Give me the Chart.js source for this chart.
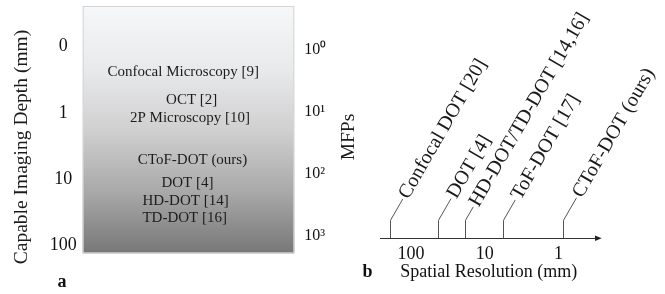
<!DOCTYPE html>
<html>
<head>
<meta charset="utf-8">
<script src="https://cdn.jsdelivr.net/npm/chart.js@4"></script>
<style>
html, body { margin: 0; padding: 0; background: #fff; }
#wrap { position: relative; width: 665px; height: 294px; }
#depthChart { position: absolute; left: 0; top: 0; }
#resChart { position: absolute; left: 358px; top: 0; }
</style>
</head>
<body>
<div id="wrap">
  <canvas id="depthChart" width="358" height="294"></canvas>
  <canvas id="resChart" width="307" height="294"></canvas>
</div>
<script>
// ---- panel a: imaging depth ----
const depthTicks = ['0', '1', '10', '100'];
const mfpTicks = ['10⁰', '10¹', '10²', '10³'];
const methodNames = ['Confocal Microscopy [9]', 'OCT [2]', '2P Microscopy [10]', 'CToF-DOT (ours)', 'DOT [4]', 'HD-DOT [14]', 'TD-DOT [16]'];
// where each method sits on the depth axis (tick index units) and across the box (0..1)
const methodDepth = [0.39, 0.81, 1.08, 1.71, 2.06, 2.34, 2.60];
const methodX = [0.475, 0.515, 0.507, 0.519, 0.495, 0.486, 0.482];

// ---- panel b: spatial resolution ----
const resNames = ['Confocal DOT [20]', 'DOT [4]', 'HD-DOT/TD-DOT [14,16]', 'ToF-DOT [17]', 'CToF-DOT (ours)'];
const resValues = [190, 43, 18.4, 5.7, 0.88];   // mm
const resTicks = [100, 10, 1];

const SERIF = "'Liberation Serif', 'Times New Roman', serif";
Chart.defaults.font.family = SERIF;
Chart.defaults.color = '#1a1a1a';

// no extra room for half labels at the ends of the y axes
const noPad = s => { s.paddingTop = 0; s.paddingBottom = 0; };

// gradient box behind the labels
const boxFill = {
  id: 'boxFill',
  beforeDatasetsDraw(chart) {
    const { ctx, chartArea: a } = chart;
    const g = ctx.createLinearGradient(0, a.top, 0, a.bottom);
    g.addColorStop(0, '#f6f7f9');
    g.addColorStop(0.25, '#e9eaec');
    g.addColorStop(0.5, '#d0d0d1');
    g.addColorStop(0.75, '#a9a9a9');
    g.addColorStop(1, '#777777');
    ctx.save();
    ctx.fillStyle = g;
    ctx.fillRect(a.left, a.top, a.right - a.left, a.bottom - a.top);
    ctx.strokeStyle = '#d4d4d4';
    ctx.lineWidth = 1;
    ctx.strokeRect(a.left + 0.5, a.top + 0.5, a.right - a.left - 1, a.bottom - a.top - 1);
    ctx.restore();
  }
};

const methodLabels = {
  id: 'methodLabels',
  afterDatasetsDraw(chart) {
    const { ctx } = chart;
    const meta = chart.getDatasetMeta(0);
    ctx.save();
    ctx.font = '15px ' + SERIF;
    ctx.fillStyle = '#1c1c1c';
    ctx.textAlign = 'center';
    ctx.textBaseline = 'middle';
    meta.data.forEach((el, i) => ctx.fillText(methodNames[i], el.x, el.y));
    ctx.restore();
  }
};

const depthTitles = {
  id: 'depthTitles',
  afterDraw(chart) {
    const { ctx } = chart;
    ctx.save();
    ctx.fillStyle = '#1a1a1a';
    ctx.textAlign = 'center';
    ctx.textBaseline = 'middle';
    ctx.font = '19.5px ' + SERIF;
    ctx.translate(22, 147);
    ctx.rotate(-Math.PI / 2);
    ctx.fillText('Capable Imaging Depth (mm)', 0, 0);
    ctx.restore();

    ctx.save();
    ctx.fillStyle = '#1a1a1a';
    ctx.textAlign = 'center';
    ctx.textBaseline = 'middle';
    ctx.font = '19.5px ' + SERIF;
    ctx.translate(349, 137);
    ctx.rotate(-Math.PI / 2);
    ctx.fillText('MFPs', 0, 0);
    ctx.restore();

    ctx.save();
    ctx.fillStyle = '#111';
    ctx.font = 'bold 18px ' + SERIF;
    ctx.textAlign = 'center';
    ctx.fillText('a', 62, 287);
    ctx.restore();
  }
};

new Chart(document.getElementById('depthChart'), {
  type: 'scatter',
  data: {
    datasets: [{
      data: methodNames.map((n, i) => ({ x: methodX[i], y: methodDepth[i] })),
      pointRadius: 0,
      yAxisID: 'y'
    }]
  },
  options: {
    responsive: false,
    animation: false,
    layout: { padding: { top: 6, bottom: 40.7, left: 0, right: 0 } },
    plugins: { legend: { display: false }, tooltip: { enabled: false } },
    scales: {
      x: { type: 'linear', min: 0, max: 1, display: false },
      y: {
        type: 'linear', position: 'left', reverse: true, min: -0.616, max: 3.126,
        afterBuildTicks: s => { s.ticks = depthTicks.map((t, i) => ({ value: i })); },
        afterFit: s => { s.width = 82.7; noPad(s); },
        grid: { display: false, drawTicks: false },
        border: { display: false },
        ticks: { callback: v => depthTicks[v], crossAlign: 'center', padding: 6, font: { size: 18 }, color: '#111' }
      },
      y2: {
        type: 'linear', position: 'right', reverse: true, min: -0.716, max: 3.29,
        afterBuildTicks: s => { s.ticks = mfpTicks.map((t, i) => ({ value: i })); },
        afterFit: s => { s.width = 358 - 294.3; noPad(s); },
        grid: { display: false, drawTicks: false },
        border: { display: false },
        ticks: { callback: v => mfpTicks[v], padding: 10, font: { size: 16 }, color: '#111' }
      }
    }
  },
  plugins: [boxFill, methodLabels, depthTitles]
});

// stems, leaders and slanted labels
const stems = {
  id: 'stems',
  afterDatasetsDraw(chart, args, opts) {
    const { ctx, chartArea } = chart;
    const meta = chart.getDatasetMeta(0);
    const ang = -Math.PI / 3;
    const ux = Math.cos(ang), uy = Math.sin(ang);
    ctx.save();
    ctx.strokeStyle = '#555';
    ctx.lineWidth = 1;
    ctx.fillStyle = '#1a1a1a';
    ctx.font = '20px ' + SERIF;
    ctx.textAlign = 'left';
    ctx.textBaseline = 'middle';
    meta.data.forEach((el, i) => {
      const x = Math.round(el.x) + 0.5;
      const yTop = el.y - opts.stemHeight;
      const L = opts.leader[i];
      const ex = x + L * ux, ey = yTop + L * uy;
      ctx.beginPath();
      ctx.moveTo(x, el.y);
      ctx.lineTo(x, yTop);
      ctx.lineTo(ex, ey);
      ctx.stroke();
      ctx.save();
      ctx.translate(ex + 2 * ux, ey + 2 * uy);
      ctx.rotate(ang);
      ctx.fillText(resNames[i], 0, 0);
      ctx.restore();
    });
    // arrow head at the end of the axis
    const yA = chartArea.bottom;
    ctx.fillStyle = '#222';
    ctx.beginPath();
    ctx.moveTo(chartArea.right - 2, yA - 2.8);
    ctx.lineTo(chartArea.right + 4.7, yA);
    ctx.lineTo(chartArea.right - 2, yA + 2.8);
    ctx.closePath();
    ctx.fill();
    // panel letter
    ctx.fillStyle = '#111';
    ctx.font = 'bold 18px ' + SERIF;
    ctx.textAlign = 'center';
    ctx.textBaseline = 'alphabetic';
    ctx.fillText('b', 367.5 - 358, 277);
    ctx.restore();
  }
};

new Chart(document.getElementById('resChart'), {
  type: 'scatter',
  data: {
    datasets: [{
      data: resValues.map(v => ({ x: v, y: 0 })),
      pointRadius: 0
    }]
  },
  options: {
    responsive: false,
    animation: false,
    layout: { padding: { top: 0, bottom: 0, left: 380.7 - 358, right: 307 - (597 - 358) } },
    plugins: {
      legend: { display: false },
      tooltip: { enabled: false },
      stems: { stemHeight: 18, leader: [24.5, 25, 15.5, 23.5, 26] }
    },
    scales: {
      x: {
        type: 'logarithmic', reverse: true, min: 0.308, max: 258, position: 'bottom',
        afterBuildTicks: s => { s.ticks = resTicks.map(v => ({ value: v })); },
        afterFit: s => { s.height = 294 - 238.3; },
        grid: { display: false, drawTicks: false },
        border: { display: true, color: '#333', width: 1 },
        ticks: { callback: v => String(v), padding: 5, font: { size: 18 }, color: '#111', maxRotation: 0, autoSkip: false },
        title: { display: true, text: 'Spatial Resolution (mm)', font: { size: 18 }, color: '#111', padding: { top: 0, bottom: 11 } }
      },
      y: { type: 'linear', min: 0, max: 1, display: false }
    }
  },
  plugins: [stems]
});
</script>
</body>
</html>
